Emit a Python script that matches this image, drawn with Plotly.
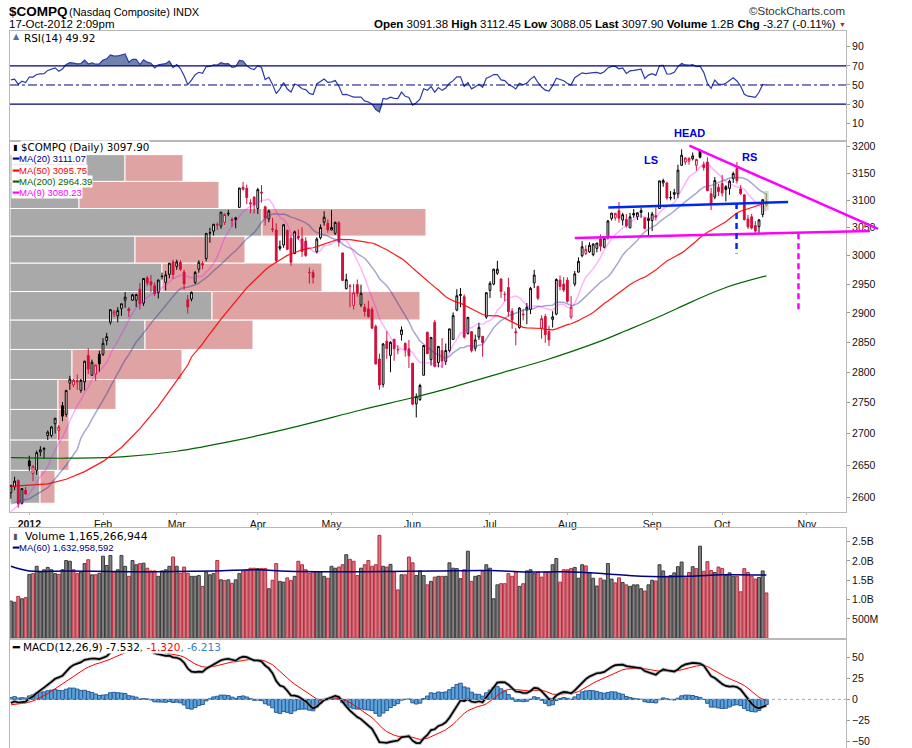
import numpy as np
import pandas as pd
import plotly.graph_objects as go

# ---------------- trading days shown on the axis ----------------
holidays = ['2011-12-26', '2012-01-02', '2012-01-16', '2012-02-20', '2012-04-06',
            '2012-05-28', '2012-07-04', '2012-09-03', '2012-11-22']
days = pd.bdate_range('2011-12-23', '2012-11-30')
days = days[~days.isin(pd.to_datetime(holidays))]

# ---------------- daily candles (Dec 23 2011 .. Oct 17 2012) ----------------
prev_close_0 = 2599.45  # close of the bar before the first one shown

opens = (
    [2607, 2616, 2626, 2591, 2611] +
    [2657, 2637, 2642, 2671, 2675, 2697, 2697, 2716, 2705, 2745, 2731, 2782, 2779, 2786, 2770, 2784, 2828, 2795, 2797, 2830] +
    [2830, 2853, 2884, 2898, 2895, 2908, 2922, 2907, 2922, 2922, 2941, 2917, 2961, 2954, 2947, 2935, 2963, 2953, 2967, 2989] +
    [2981, 2988, 2971, 2923, 2924, 2953, 2976, 2986, 2995, 3041, 3044, 3056, 3053, 3060, 3076, 3065, 3065, 3087, 3124, 3122, 3093, 3106] +
    [3085, 3115, 3088, 3066, 3048, 3046, 3013, 3019, 3045, 3031, 3004, 3035, 3030, 3026, 2970, 2970, 3007, 3032, 3060, 3058] +
    [3046, 3040, 3059, 3005, 2942, 2946, 2913, 2949, 2914, 2910, 2907, 2906, 2877, 2822, 2780, 2852, 2828, 2855, 2838, 2863, 2848, 2839] +
    [2815, 2748, 2755, 2795, 2867, 2821, 2884, 2816, 2836, 2818, 2836, 2855, 2905, 2932, 2928, 2865, 2868, 2840, 2859, 2860, 2893] +
    [2939, 2950, 2969, 2959, 2932, 2944, 2903, 2868, 2875, 2898, 2905, 2906, 2952, 2946, 2874, 2894, 2868, 2889, 2898, 2957, 2950] +
    [2957, 2893, 2950, 2971, 3000, 3004, 3007, 3002, 3013, 3030, 3015, 3032, 3067, 3068, 3081, 3064, 3065, 3050, 3076, 3070, 3078, 3068, 3063] +
    [3063, 3072, 3085, 3132, 3132, 3105, 3111, 3112, 3165, 3171, 3173, 3177, 3165, 3193, 3166, 3171, 3112, 3106, 3124] +
    [3131, 3125, 3122, 3140, 3159, 3121, 3110, 3066, 3070, 3054, 3052, 3074, 3091.38]
)
highs = (
    [2619, 2632, 2628, 2614, 2616] +
    [2665, 2650, 2673, 2680, 2678, 2705, 2712, 2725, 2714, 2751, 2771, 2794, 2789, 2796, 2789, 2819, 2840, 2821, 2813, 2836] +
    [2857, 2866, 2906, 2905, 2910, 2916, 2936, 2910, 2933, 2933, 2952, 2960, 2964, 2966, 2953, 2958, 2970, 2973, 2987, 2993] +
    [2993, 2992, 2975, 2931, 2937, 2973, 2992, 2990, 3040, 3050, 3057, 3060, 3079, 3076, 3082, 3069, 3070, 3123, 3134, 3129, 3102, 3107] +
    [3123, 3128, 3090, 3083, 3068, 3058, 3027, 3057, 3047, 3037, 3045, 3047, 3051, 3033, 2979, 2975, 3033, 3056, 3080, 3065] +
    [3082, 3061, 3062, 3005, 2968, 2950, 2950, 2958, 2949, 2916, 2921, 2910, 2880, 2831, 2849, 2869, 2852, 2856, 2845, 2877, 2850, 2854] +
    [2815, 2765, 2781, 2845, 2868, 2859, 2888, 2844, 2857, 2848, 2873, 2901, 2941, 2943, 2932, 2893, 2869, 2863, 2883, 2861, 2935] +
    [2955, 2977, 2991, 2960, 2937, 2961, 2908, 2874, 2910, 2907, 2917, 2945, 2975, 2947, 2896, 2898, 2878, 2903, 2960, 2965, 2962] +
    [2962, 2929, 2973, 2997, 3026, 3019, 3024, 3022, 3023, 3038, 3033, 3064, 3077, 3077, 3097, 3077, 3075, 3077, 3084, 3078, 3086, 3069, 3078] +
    [3079, 3087, 3136, 3140, 3134, 3117, 3121, 3166, 3195, 3180, 3180, 3189, 3177, 3196, 3172, 3180, 3123, 3143, 3130] +
    [3147, 3128, 3138, 3153, 3171, 3128, 3111, 3073, 3075, 3062, 3066, 3102, 3112.45]
)
lows = (
    [2598, 2611, 2584, 2589, 2604] +
    [2641, 2625, 2635, 2664, 2660, 2690, 2694, 2700, 2690, 2720, 2727, 2771, 2775, 2771, 2766, 2770, 2797, 2794, 2786, 2801] +
    [2827, 2845, 2880, 2893, 2884, 2895, 2909, 2893, 2921, 2910, 2906, 2912, 2947, 2936, 2929, 2925, 2958, 2939, 2960, 2959] +
    [2975, 2973, 2940, 2899, 2920, 2950, 2970, 2976, 2990, 3023, 3036, 3046, 3048, 3055, 3071, 3052, 3049, 3087, 3118, 3093, 3076, 3076] +
    [3075, 3096, 3054, 3060, 3042, 2987, 3009, 3014, 3010, 2982, 3003, 3028, 2998, 2998, 2951, 2951, 3004, 3029, 3054, 3041] +
    [3045, 3037, 3016, 2956, 2941, 2910, 2906, 2928, 2910, 2894, 2892, 2873, 2813, 2771, 2775, 2822, 2800, 2819, 2830, 2853, 2826, 2807] +
    [2746, 2726, 2753, 2795, 2830, 2811, 2808, 2808, 2807, 2812, 2833, 2854, 2903, 2910, 2856, 2863, 2833, 2835, 2854, 2826, 2890] +
    [2926, 2948, 2966, 2926, 2920, 2894, 2873, 2845, 2873, 2887, 2881, 2898, 2943, 2922, 2856, 2849, 2844, 2875, 2896, 2939, 2936] +
    [2918, 2889, 2946, 2970, 2997, 3001, 3005, 2999, 3006, 3008, 3013, 3029, 3063, 3063, 3059, 3054, 3050, 3049, 3068, 3064, 3068, 3047, 3036] +
    [3044, 3063, 3085, 3125, 3101, 3100, 3102, 3104, 3164, 3166, 3166, 3174, 3155, 3178, 3155, 3117, 3082, 3102, 3108] +
    [3107, 3098, 3110, 3132, 3131, 3110, 3063, 3048, 3047, 3041, 3040, 3069, 3088.05]
)
closes = (
    [2618.64, 2625.20, 2589.98, 2613.74, 2605.15] +
    [2648.72, 2648.36, 2669.86, 2674.22, 2676.56, 2702.50, 2710.76, 2724.70, 2710.67, 2728.08,
     2769.71, 2788.33, 2786.70, 2784.17, 2786.64, 2818.31, 2805.28, 2816.55, 2811.94, 2813.84] +
    [2848.27, 2859.68, 2905.66, 2901.99, 2904.08, 2915.86, 2927.23, 2903.88, 2931.39, 2931.83,
     2915.83, 2959.85, 2951.78, 2948.57, 2933.17, 2956.98, 2963.75, 2966.16, 2986.76, 2966.89] +
    [2988.97, 2976.19, 2950.48, 2910.32, 2935.69, 2970.42, 2988.34, 2983.66, 3039.88, 3040.73, 3056.37,
     3055.26, 3078.32, 3074.15, 3075.32, 3063.32, 3067.92, 3122.57, 3120.35, 3104.96, 3095.36, 3091.57] +
    [3119.70, 3113.57, 3068.09, 3080.50, 3047.08, 2991.22, 3016.46, 3055.55, 3011.33, 2988.40,
     3042.82, 3031.45, 3007.56, 3000.45, 2970.45, 2961.60, 3029.63, 3050.61, 3069.20, 3046.36] +
    [3050.44, 3059.85, 3024.30, 2956.34, 2957.76, 2946.27, 2934.71, 2933.64, 2933.82, 2902.58, 2893.76,
     2874.04, 2813.69, 2778.79, 2847.21, 2839.38, 2850.12, 2839.08, 2837.53, 2870.99, 2837.36, 2827.34] +
    [2747.48, 2760.01, 2778.11, 2844.72, 2831.02, 2858.42, 2809.73, 2843.07, 2818.61, 2836.33, 2872.80,
     2895.33, 2929.76, 2930.45, 2859.09, 2892.42, 2836.16, 2854.06, 2875.32, 2849.49, 2935.05] +
    [2951.23, 2976.08, 2976.12, 2937.33, 2931.77, 2902.33, 2887.98, 2866.19, 2908.47, 2896.94, 2910.04,
     2942.60, 2965.90, 2925.30, 2890.15, 2862.99, 2854.24, 2893.25, 2958.09, 2945.84, 2939.52] +
    [2920.21, 2909.77, 2967.90, 2989.91, 3015.86, 3011.25, 3018.64, 3020.86, 3022.52, 3016.98, 3030.93, 3062.39,
     3076.59, 3076.21, 3067.26, 3073.67, 3053.40, 3069.79, 3073.19, 3077.14, 3081.19, 3048.71, 3066.96] +
    [3075.06, 3069.27, 3135.81, 3136.42, 3104.02, 3104.53, 3114.31, 3155.83, 3183.95, 3178.67,
     3177.80, 3182.62, 3175.96, 3179.96, 3160.78, 3117.73, 3093.70, 3136.60, 3116.23] +
    [3113.53, 3120.04, 3135.23, 3149.46, 3136.19, 3112.35, 3065.02, 3051.78, 3049.41, 3044.11,
     3064.18, 3101.17, 3097.90]
)
# daily volume, billions of shares
volumes = (
    [0.96, 0.93, 1.08, 1.02, 1.05] +
    [1.65, 1.67, 1.86, 1.71, 1.77, 1.83, 1.77, 1.67, 1.65, 1.77, 2.01, 1.99, 1.77, 1.67, 1.71, 1.93, 2.03, 1.64, 1.64, 1.68] +
    [2.12, 1.88, 2.14, 1.71, 1.77, 2.14, 1.86, 1.60, 2.01, 1.90, 1.93, 1.94, 1.81, 1.74, 1.74, 1.60, 1.74, 1.77, 1.86, 2.10] +
    [1.86, 1.68, 1.84, 1.68, 1.60, 1.60, 1.62, 1.34, 1.71, 1.64, 1.67, 2.01, 1.51, 1.49, 1.51, 1.42, 1.51, 1.67, 1.74, 1.77, 1.81, 1.81] +
    [1.80, 1.80, 1.80, 1.28, 1.50, 1.93, 1.47, 1.45, 1.56, 1.49, 1.60, 1.99, 1.90, 1.77, 1.68, 1.71, 1.72, 1.72, 1.60, 1.55] +
    [1.86, 1.81, 1.84, 1.90, 2.16, 2.04, 1.99, 1.62, 1.81, 1.90, 2.01, 1.86, 1.90, 2.66, 1.86, 1.84, 1.91, 1.71, 1.25, 1.64, 1.64, 2.10] +
    [1.95, 1.62, 1.74, 1.62, 1.38, 1.47, 1.58, 1.60, 1.60, 1.60, 1.95, 1.81, 1.80, 1.54, 1.77, 2.25, 1.47, 1.60, 1.62, 1.74, 1.90] +
    [1.81, 1.02, 1.38, 1.41, 1.41, 1.67, 1.60, 1.71, 1.34, 1.41, 1.74, 1.77, 1.67, 1.71, 1.58, 1.71, 1.71, 1.90, 2.06, 1.45, 1.77] +
    [1.77, 1.80, 1.83, 1.55, 1.90, 1.87, 1.70, 1.55, 1.35, 1.55, 1.50, 1.93, 1.53, 1.43, 1.56, 1.44, 1.38, 1.34, 1.38, 1.38, 1.28, 1.22, 1.38] +
    [1.50, 1.48, 1.90, 1.74, 1.60, 1.62, 1.69, 1.85, 1.97, 1.56, 1.70, 1.85, 1.80, 2.38, 1.73, 1.98, 1.75, 1.70, 1.84] +
    [1.80, 1.62, 1.69, 1.60, 1.60, 1.20, 1.80, 1.70, 1.60, 1.53, 1.57, 1.74, 1.17]
)

# moving-average stretches (bar position, value)
ma9_early_pos, ma9_early = [0, 2, 5, 7], [2578, 2588, 2605, 2622]
ma20_early_pos, ma20_early = [0, 5, 10, 15, 18], [2590, 2598, 2615, 2650, 2675]
ma50_early_pos = [0, 10, 15, 20, 25, 30, 35, 40, 45, 48]
ma50_early = [2617, 2621, 2628, 2640, 2656, 2678, 2708, 2744, 2786, 2812]
ma200_pos = [0, 15, 30, 45, 60, 78, 95, 109, 118, 136, 145, 160, 167, 176, 185, 194, 205]
ma200_val = [2662, 2661, 2663, 2672, 2688, 2712, 2738, 2758, 2772, 2804, 2820, 2852, 2870, 2894, 2920, 2944, 2964.39]
vol_ma_pos = [0, 5, 15, 35, 55, 67, 75, 95, 115, 130, 140, 150, 161, 171, 184, 193, 205]
vol_ma_val = [1.86, 1.74, 1.74, 1.72, 1.74, 1.77, 1.73, 1.72, 1.74, 1.75, 1.71, 1.72, 1.67, 1.60, 1.60, 1.64, 1.633]

# indicator starting state estimated from the left edge of the panels
RSI_SEED_GAIN, RSI_SEED_LOSS = 14.0, 12.5
EMA12_SEED, EMA26_SEED, SIGNAL_SEED = 2603.0, 2609.0, -7.0

# volume-by-price zones (price bands, up / down volume in relative units)
vbp_lo = [2591, 2642, 2690, 2739, 2788, 2838, 2888, 2937, 2987, 3035, 3085, 3135]
vbp_hi = [2642, 2690, 2739, 2788, 2838, 2888, 2937, 2987, 3035, 3085, 3135, 3185]
vbp_up = [30, 48, 48, 48, 62, 135, 202, 152, 125, 252, 69, 115]
vbp_down = [15, 11, 11, 58, 110, 108, 208, 160, 110, 164, 140, 58]
VBP_FULL = 836.0  # relative volume that would span the whole panel

# hand-drawn head & shoulders annotations (bar position, price)
neck_blue_pos, neck_blue_px = [162.1, 210.9], [3087, 3097]
neck_pink_pos, neck_pink_px = [153.0, 233.1], [3031.6, 3044]
down_pink_pos, down_pink_px = [184.1, 235.3], [3202, 3048]
drop_blue_pos, drop_blue_px = 196.9, [3095, 3004]
drop_pink_pos, drop_pink_px = 213.7, [3040, 2905]
hs_labels = ['LS', 'RS']
hs_pos = [173.7, 200.5]
hs_px = [3175, 3181]
head_pos = 184.2

price_ticks = [2600, 2650, 2700, 2750, 2800, 2850, 2900, 2950, 3000, 3050, 3100, 3150, 3200]

# ---------------- derived series ----------------
n = len(closes)
pos = np.arange(n)
c = np.array(closes, float)
prev = np.concatenate([[prev_close_0], c[:-1]])
up_day = c >= prev

s = pd.Series(c)
def ma_line(win, early_pos, early_val):
    m = s.rolling(win).mean()
    ok = m.notna().values
    return list(early_pos) + list(pos[ok]), list(early_val) + list(m[ok])

ag, al = RSI_SEED_GAIN, RSI_SEED_LOSS
rsi = []
for d in c - prev:
    ag = (ag * 13 + max(d, 0)) / 14
    al = (al * 13 + max(-d, 0)) / 14
    rsi.append(100 - 100 / (1 + ag / al))
rsi = np.array(rsi)

e12, e26, sig = EMA12_SEED, EMA26_SEED, SIGNAL_SEED
macd, signal = [], []
for v in c:
    e12 += (v - e12) * 2 / 13
    e26 += (v - e26) * 2 / 27
    m = e12 - e26
    sig += (m - sig) * 2 / 10
    macd.append(m)
    signal.append(sig)
macd = np.array(macd)
signal = np.array(signal)
hist = macd - signal

# month ticks
month_pos, month_txt = [], []
for k, d in enumerate(days):
    if k > 0 and d.month != days[k - 1].month:
        month_pos.append(k)
        month_txt.append('<b>2012</b>' if d.month == 1 else d.strftime('%b'))

# ---------------- layout geometry ----------------
W, H = 912, 748
X_DOM = [10 / W, 846 / W]
X_RNG = [-0.24, 226.6]
def ydom(top, bot):
    return [1 - bot / H, 1 - top / H]
RSI_DOM, P_DOM, V_DOM, M_DOM = ydom(31, 141), ydom(141, 512), ydom(528, 639), ydom(639, 748)
P_RNG = [2577.6, 3210.8]

def xp(p):
    return X_DOM[0] + (p - X_RNG[0]) / (X_RNG[1] - X_RNG[0]) * (X_DOM[1] - X_DOM[0])

def yp(price):
    lo, hi = np.log10(P_RNG[0]), np.log10(P_RNG[1])
    return P_DOM[0] + (np.log10(price) - lo) / (hi - lo) * (P_DOM[1] - P_DOM[0])

RED = '#D0103A'
NAVY = '#000080'
FONT = 'Liberation Sans'
LEG = 'DejaVu Sans'

fig = go.Figure()

# ---------------- RSI panel ----------------
fig.add_trace(go.Scatter(x=pos, y=[70] * n, mode='lines', line=dict(width=0), xaxis='x', yaxis='y', hoverinfo='skip'))
fig.add_trace(go.Scatter(x=pos, y=np.maximum(rsi, 70), mode='lines', line=dict(width=0), fill='tonexty',
                         fillcolor='#7083AA', xaxis='x', yaxis='y', hoverinfo='skip'))
fig.add_trace(go.Scatter(x=pos, y=[30] * n, mode='lines', line=dict(width=0), xaxis='x', yaxis='y', hoverinfo='skip'))
fig.add_trace(go.Scatter(x=pos, y=np.minimum(rsi, 30), mode='lines', line=dict(width=0), fill='tonexty',
                         fillcolor='#7083AA', xaxis='x', yaxis='y', hoverinfo='skip'))
fig.add_trace(go.Scatter(x=pos, y=rsi, mode='lines', line=dict(color='#2A3BA8', width=1.2), xaxis='x', yaxis='y'))
for lvl, dash in [(70, 'solid'), (30, 'solid'), (50, 'dashdot')]:
    fig.add_shape(type='line', xref='paper', yref='y', x0=X_DOM[0], x1=X_DOM[1], y0=lvl, y1=lvl,
                  line=dict(color=NAVY, width=1.4 if dash == 'solid' else 1, dash=dash))

# ---------------- price panel ----------------
for lo, hi, u, dn in zip(vbp_lo, vbp_hi, vbp_up, vbp_down):
    xa = X_DOM[0]
    xb = xa + u / VBP_FULL * (X_DOM[1] - X_DOM[0])
    xc = xb + dn / VBP_FULL * (X_DOM[1] - X_DOM[0])
    fig.add_shape(type='rect', xref='paper', yref='y2', x0=xa, x1=xb, y0=lo, y1=hi,
                  fillcolor='#A9A9A9', line=dict(color='white', width=1), layer='below')
    fig.add_shape(type='rect', xref='paper', yref='y2', x0=xb, x1=xc, y0=lo, y1=hi,
                  fillcolor='#DFA3A3', line=dict(color='white', width=1), layer='below')

o_a, h_a, l_a = np.array(opens, float), np.array(highs, float), np.array(lows, float)
for mask, col in [(up_day, '#000000'), (~up_day, RED)]:
    fig.add_trace(go.Candlestick(
        x=pos[mask], open=o_a[mask], high=h_a[mask], low=l_a[mask], close=c[mask],
        increasing=dict(line=dict(color=col, width=1), fillcolor='white'),
        decreasing=dict(line=dict(color=col, width=1), fillcolor=col),
        whiskerwidth=0, xaxis='x2', yaxis='y2'))

fig.add_shape(type='rect', xref='x2', yref='y2', x0=pos[-1] - 0.6, x1=pos[-1] + 0.6,
              y0=lows[-1] - 6, y1=highs[-1] + 5, fillcolor='rgba(140,210,140,0.55)', line=dict(width=0))

fig.add_trace(go.Scatter(x=ma200_pos, y=ma200_val, mode='lines', line=dict(color='#006400', width=1.2, shape='spline'),
                         xaxis='x2', yaxis='y2'))
mx, my = ma_line(50, ma50_early_pos, ma50_early)
fig.add_trace(go.Scatter(x=mx, y=my, mode='lines', line=dict(color='rgba(255,0,0,0.9)', width=1.2), xaxis='x2', yaxis='y2'))
mx, my = ma_line(20, ma20_early_pos, ma20_early)
fig.add_trace(go.Scatter(x=mx, y=my, mode='lines', line=dict(color='rgba(60,60,150,0.45)', width=1.5), xaxis='x2', yaxis='y2'))
mx, my = ma_line(9, ma9_early_pos, ma9_early)
fig.add_trace(go.Scatter(x=mx, y=my, mode='lines', line=dict(color='rgba(255,0,255,0.3)', width=1.5), xaxis='x2', yaxis='y2'))

# head & shoulders drawing
for xs, ys, col in [(neck_blue_pos, neck_blue_px, '#0028F0'), (neck_pink_pos, neck_pink_px, '#FF00FF'),
                    (down_pink_pos, down_pink_px, '#FF00FF')]:
    fig.add_shape(type='line', xref='paper', yref='y2', x0=xp(xs[0]), x1=xp(xs[1]), y0=ys[0], y1=ys[1],
                  line=dict(color=col, width=2.5))
for xs, ys, col in [(drop_blue_pos, drop_blue_px, '#0028F0'), (drop_pink_pos, drop_pink_px, '#FF00FF')]:
    fig.add_shape(type='line', xref='paper', yref='y2', x0=xp(xs), x1=xp(xs), y0=ys[0], y1=ys[1],
                  line=dict(color=col, width=2.5, dash='6px,4px'))
for t, p, v in zip(hs_labels, hs_pos, hs_px):
    fig.add_annotation(x=xp(p), y=yp(v), xref='paper', yref='paper', text='<b>%s</b>' % t, showarrow=False,
                       xanchor='center', yanchor='middle', font=dict(family=FONT, size=11, color='#0000DD'))
fig.add_annotation(x=xp(head_pos), y=1 - 133 / H, xref='paper', yref='paper', text='<b>HEAD</b>', showarrow=False,
                   xanchor='center', yanchor='middle', font=dict(family=FONT, size=11, color='#0000DD'))

# ---------------- volume panel ----------------
vol = np.array(volumes) * 1e9
fig.add_trace(go.Bar(x=pos, y=vol, width=0.8, xaxis='x3', yaxis='y3',
                     marker=dict(color=np.where(up_day, '#808080', '#D27C82'),
                                 line=dict(color=np.where(up_day, '#3C3C3C', '#BE2A40'), width=1))))
fig.add_trace(go.Scatter(x=vol_ma_pos, y=np.array(vol_ma_val) * 1e9, mode='lines',
                         line=dict(color=NAVY, width=1.5, shape='spline'), xaxis='x3', yaxis='y3'))

# ---------------- MACD panel ----------------
fig.add_trace(go.Bar(x=pos, y=hist, width=1.0, xaxis='x4', yaxis='y4',
                     marker=dict(color='#5BA3D9', line=dict(color='#2C5C99', width=1))))
fig.add_shape(type='line', xref='paper', yref='y4', x0=X_DOM[0], x1=X_DOM[1], y0=0, y1=0,
              line=dict(color='#7FB2DF', width=1, dash='dot'))
fig.add_trace(go.Scatter(x=pos, y=signal, mode='lines', line=dict(color='#FF0000', width=1), xaxis='x4', yaxis='y4'))
fig.add_trace(go.Scatter(x=pos, y=macd, mode='lines', line=dict(color='rgba(140,140,140,0.6)', width=3.5),
                         xaxis='x4', yaxis='y4'))
fig.add_trace(go.Scatter(x=pos, y=macd, mode='lines', line=dict(color='#000000', width=1.7), xaxis='x4', yaxis='y4'))

# ---------------- axes ----------------
ax_x = dict(range=X_RNG, domain=X_DOM, showgrid=False, zeroline=False, showline=True, mirror=True,
            linecolor='#B8B8B8', showticklabels=False, ticks='')
ax_y = dict(side='right', showgrid=False, zeroline=False, showline=True, mirror=True, linecolor='#B8B8B8',
            ticks='outside', ticklen=3, tickcolor='#999999', tickfont=dict(family=FONT, size=10.5, color='#111'))

fig.update_layout(
    width=W, height=H, margin=dict(l=0, r=0, t=0, b=0),
    paper_bgcolor='white', plot_bgcolor='rgba(0,0,0,0)', showlegend=False,
    font=dict(family=FONT), hovermode=False,
    xaxis=dict(ax_x, anchor='y'),
    xaxis2=dict(ax_x, anchor='y2', rangeslider=dict(visible=False), showticklabels=True,
                tickvals=month_pos, ticktext=month_txt, ticks='outside', ticklen=2, tickcolor='#B8B8B8',
                tickfont=dict(family=FONT, size=10.5, color='#111')),
    xaxis3=dict(ax_x, anchor='y3'),
    xaxis4=dict(ax_x, anchor='y4'),
    yaxis=dict(ax_y, domain=RSI_DOM, anchor='x', range=[-8.5, 106.4], tickvals=[10, 30, 50, 70, 90]),
    yaxis2=dict(ax_y, domain=P_DOM, anchor='x2', type='log', range=[np.log10(P_RNG[0]), np.log10(P_RNG[1])],
                tickvals=price_ticks, ticktext=[str(t) for t in price_ticks]),
    yaxis3=dict(ax_y, domain=V_DOM, anchor='x3', range=[-0.02e9, 2.85e9],
                tickvals=[0.5e9, 1.0e9, 1.5e9, 2.0e9, 2.5e9], ticktext=['500M', '1.0B', '1.5B', '2.0B', '2.5B']),
    yaxis4=dict(ax_y, domain=M_DOM, anchor='x4', range=[-58, 72], tickvals=[-50, -25, 0, 25, 50]),
)

# ---------------- header and panel legends ----------------
def note(x, y, text, size, color='#000', family=FONT, anchor='left', bg=None):
    fig.add_annotation(x=x / W, y=1 - y / H, xref='paper', yref='paper', text=text, showarrow=False,
                       xanchor=anchor, yanchor='middle', font=dict(family=family, size=size, color=color),
                       bgcolor=bg, borderpad=0)

note(8, 12, '<b>$COMPQ</b>', 13.5)
note(68, 12, '(Nasdaq Composite) INDX', 11)
note(8, 24, '17-Oct-2012 2:09pm', 11.5)
note(846, 11, '©StockCharts.com', 11.5, color='#333', anchor='right')
note(837, 24, '<b>Open</b> 3091.38 <b>High</b> 3112.45 <b>Low</b> 3088.05 <b>Last</b> 3097.90 '
     '<b>Volume</b> 1.2B <b>Chg</b> -3.27 (-0.11%)', 11.5, anchor='right')
note(847, 24, '▼', 7, color='#B22222', anchor='right')

# small panel icons
note(12, 37, '▲', 8, color='#5A6E99', family=LEG)
note(12, 147, '▮', 8, color='#000000', family=LEG)
note(12, 536, '▮', 8, color='#555555', family=LEG)

note(23, 38, 'RSI(14) 49.92', 10.4, family=LEG, bg='white')
note(20, 147, '$COMPQ (Daily) 3097.90', 10.3, family=LEG, bg='white')
ma_rows = [('MA(20) 3111.07', NAVY), ('MA(50) 3095.75', '#FF0000'),
           ('MA(200) 2964.39', '#006400'), ('MA(9) 3080.23', '#FF00FF')]
for k, (t, col) in enumerate(ma_rows):
    yy = 159 + k * 11.2
    note(11, yy, '<b>━</b>' + t, 9.5, color=col, bg='white')
note(24, 536, 'Volume 1,165,266,944', 10.8, family=LEG, bg='white')
note(11, 547, '<b>━</b>MA(60) 1,632,958,592', 9.5, color=NAVY)
note(11, 647, '<b>━</b> <span style="font-family:DejaVu Sans">MACD(12,26,9) -7.532</span>'
     '<span style="color:#FF0000;font-family:DejaVu Sans">, -1.320</span>'
     '<span style="color:#3A80C8;font-family:DejaVu Sans">, -6.213</span>', 10.5, bg='white')

fig.write_html("out.html", config={'displayModeBar': False},
               post_script="document.body.style.margin='0px';")
